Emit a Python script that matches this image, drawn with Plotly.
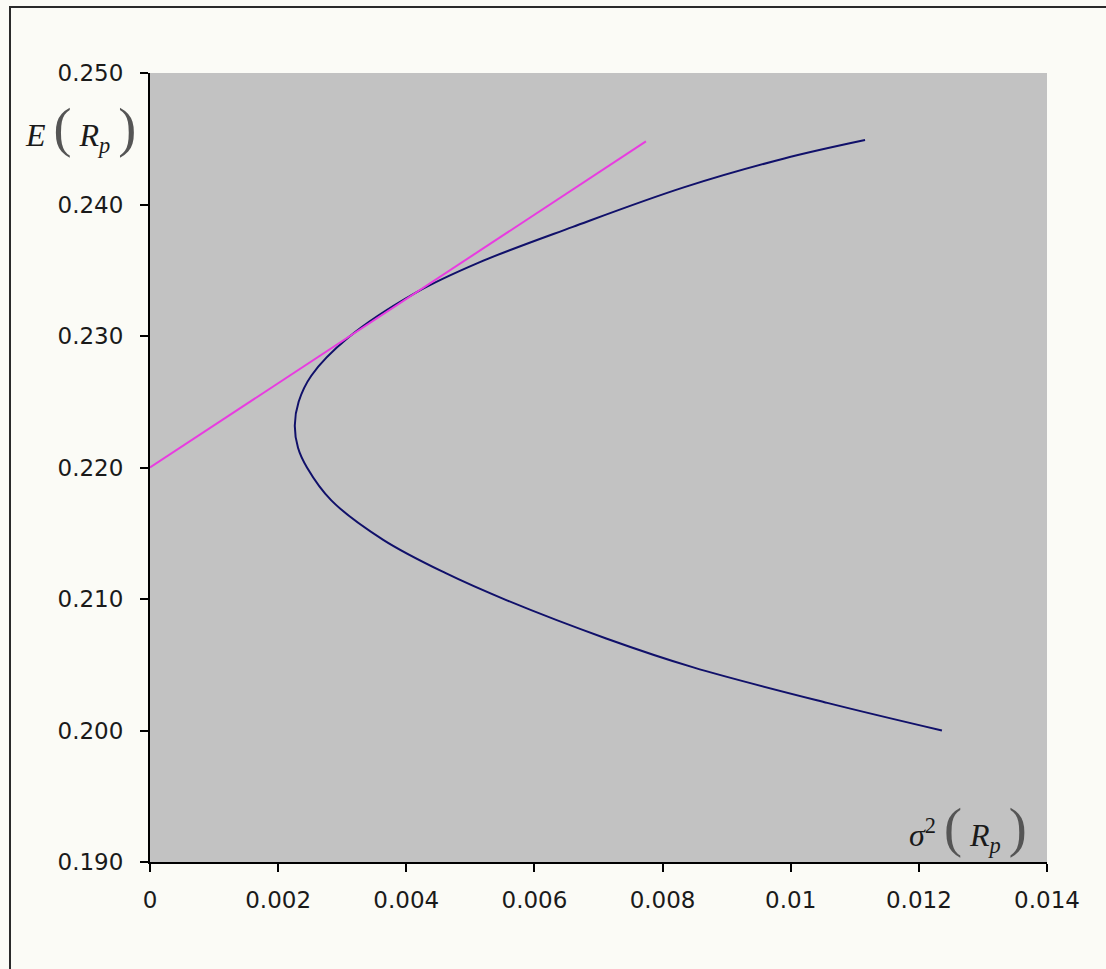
import plotly.graph_objects as go

# Efficient frontier (variance, expected return)
frontier_var = [0.01236, 0.01057, 0.00848, 0.00712, 0.00557, 0.00460, 0.00364, 0.00283,
                0.00245, 0.00231, 0.00226, 0.00232, 0.00252, 0.00310, 0.00415, 0.00514,
                0.00660, 0.00833, 0.00990, 0.01116]
frontier_ret = [0.2000, 0.2021, 0.2048, 0.2070, 0.2099, 0.2120, 0.2145, 0.2175,
                0.2200, 0.2215, 0.2232, 0.2250, 0.2270, 0.2299, 0.2333, 0.2356,
                0.2383, 0.2413, 0.2435, 0.2449]

# Tangent (capital market) line
line_var = [0.0, 0.00774]
line_ret = [0.2200, 0.2448]

x_ticks = [0, 0.002, 0.004, 0.006, 0.008, 0.010, 0.012, 0.014]
x_ticktext = ["0", "0.002", "0.004", "0.006", "0.008", "0.01", "0.012", "0.014"]
y_ticks = [0.190, 0.200, 0.210, 0.220, 0.230, 0.240, 0.250]

fig = go.Figure()
fig.add_trace(go.Scatter(x=frontier_var, y=frontier_ret, mode="lines",
                         line=dict(color="#10106a", width=2, shape="spline", smoothing=1.0),
                         showlegend=False, hoverinfo="skip"))
fig.add_trace(go.Scatter(x=line_var, y=line_ret, mode="lines",
                         line=dict(color="#e83ce0", width=2),
                         showlegend=False, hoverinfo="skip"))

tick_font = dict(family="DejaVu Sans", size=23, color="#1a1a1a")
paren = "<span style='font-size:54px;color:#555555'>%s</span>"

fig.update_layout(
    width=1106, height=969,
    margin=dict(l=150, r=59, t=73, b=107),
    paper_bgcolor="#fbfbf6",
    plot_bgcolor="#c2c2c2",
    xaxis=dict(range=[0, 0.014], tickvals=x_ticks, ticktext=x_ticktext,
               showgrid=False, zeroline=False, showline=True, linecolor="black",
               linewidth=2, ticks="outside", ticklen=8, tickwidth=2, tickcolor="black",
               tickfont=tick_font, mirror=False, fixedrange=True, ticklabelstandoff=8),
    yaxis=dict(range=[0.190, 0.250], tickvals=y_ticks, tickformat=".3f",
               showgrid=False, zeroline=False, showline=True, linecolor="black",
               linewidth=2, ticks="outside", ticklen=8, tickwidth=2, tickcolor="black",
               tickfont=tick_font, mirror=False, fixedrange=True, ticklabelstandoff=12),
    shapes=[
        dict(type="rect", xref="paper", yref="paper",
             x0=(10 - 150) / 897, x1=(1112 - 150) / 897,
             y0=(862 - 980) / 789, y1=(862 - 7) / 789,
             line=dict(color="#2a2a2a", width=2), fillcolor="rgba(0,0,0,0)", layer="below"),
    ],
    annotations=[
        dict(xref="paper", yref="paper", x=(80 - 150) / 897, y=(862 - 128) / 789,
             xanchor="center", yanchor="middle", showarrow=False,
             text="<i>E</i> " + paren % "(" + " <i>R</i><sub><i>p</i></sub> " + paren % ")",
             font=dict(family="Liberation Serif", size=32, color="#1a1a1a")),
        dict(xref="paper", yref="paper", x=(968 - 150) / 897, y=(862 - 828) / 789,
             xanchor="center", yanchor="middle", showarrow=False,
             text="<i>σ</i><sup>2</sup> " + paren % "(" + " <i>R</i><sub><i>p</i></sub> " + paren % ")",
             font=dict(family="Liberation Serif", size=32, color="#1a1a1a")),
    ],
)

fig.write_html("out.html", config={"displayModeBar": False},
               post_script="document.body.style.margin='0';document.body.style.background='#fbfbf6';")
